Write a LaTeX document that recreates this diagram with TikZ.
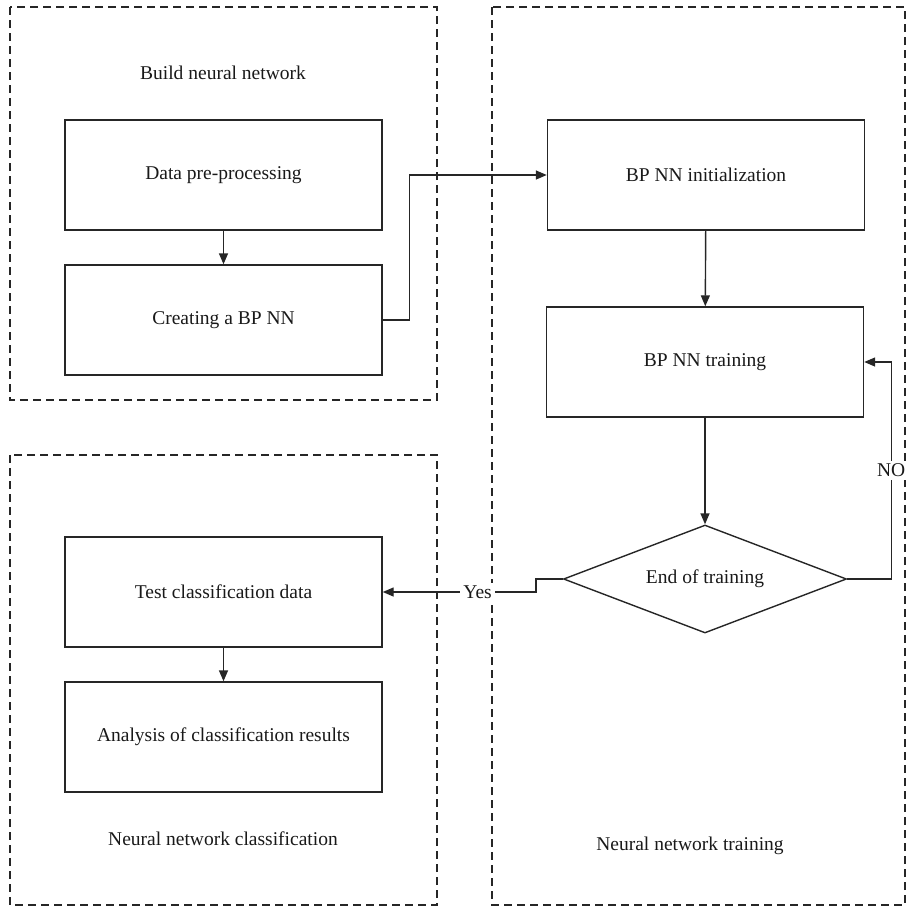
\documentclass[tikz,border=0pt]{standalone}
\usepackage{fontspec}
\setmainfont{Liberation Serif}
\usepackage{xcolor}
\usetikzlibrary{shapes.geometric, arrows.meta}

\tikzset{
  stagebox/.style={draw=black!85, dash pattern=on 8pt off 5pt, line width=1.2pt},
  procbox/.style={draw=black!85, line width=1.4pt, minimum width=317pt, minimum height=110pt, inner sep=0pt},
  decbox/.style={draw=black!85, line width=1.4pt, diamond, aspect=2.6, minimum width=283pt, minimum height=108pt, inner sep=0pt},
  flow/.style={draw=black!85, line width=1.4pt, -{Triangle[length=11pt,width=9pt]}},
  tag/.style={fill=white, inner sep=3pt}
}

\begin{document}
\begin{tikzpicture}[x=1pt, y=-1pt, font=\fontsize{19.5}{23}\selectfont, text=black!90]
\useasboundingbox (0,0) rectangle (911,908);
% stages
\draw [stagebox] (10,7) rectangle (437,400);
\draw [stagebox] (10,455) rectangle (437,905);
\draw [stagebox] (492,7) rectangle (905,905);
\node (buildlbl) at (223,73) {Build neural network};
\node (classlbl) at (223,839) {Neural network classification};
\node (trainlbl) at (690,846) {Neural network training};
% steps
\node [procbox] (prep) at (223.5,175) {Data pre-processing};
\node [procbox] (create) at (223.5,320) {Creating a BP NN};
\node [procbox] (init) at (706,175) {BP NN initialization};
\node [procbox] (train) at (705,362) {BP NN training};
\node [decbox] (done) at (705,579) {End of training};
\node [procbox] (test) at (223.5,592) {Test classification data};
\node [procbox] (analysis) at (223.5,737) {Analysis of classification results};
% connectors
\draw [flow] (prep) -- (create);
\draw [flow] (create.east) -- ++(27,0) |- (init.west);
\draw [flow] (init) -- (train);
\draw [flow] (train) -- (done);
\draw [flow] (done.east) -- ++(44,0) |- (train.east)
  node [tag, pos=0.25] {NO};
\draw [flow] (done.west) -- ++(-27,0) |- (test.east)
  node [tag, pos=0.69] {Yes};
\draw [flow] (test) -- (analysis);
\end{tikzpicture}
\end{document}
